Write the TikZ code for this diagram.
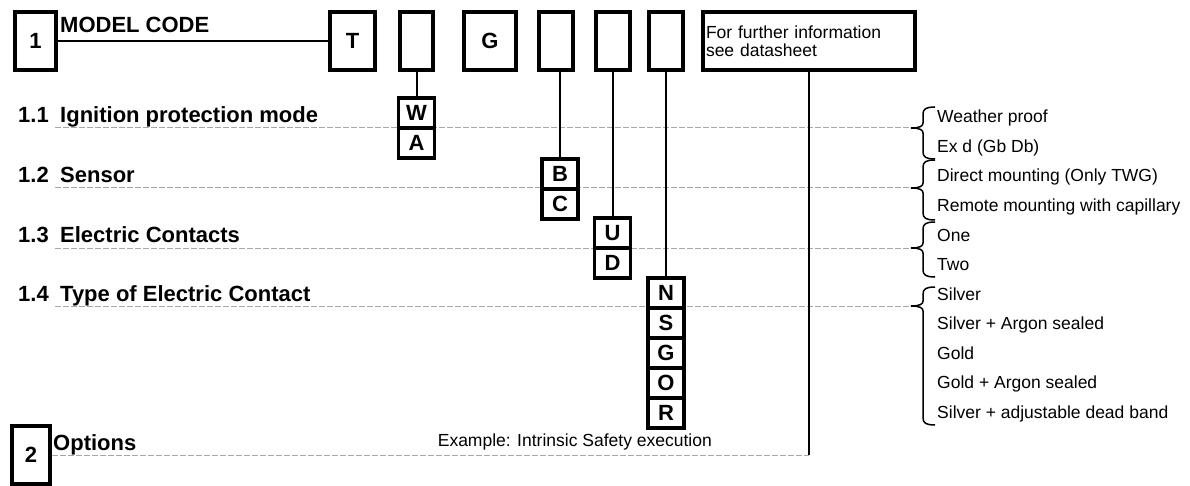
\documentclass[tikz,border=0pt]{standalone}
\usepackage{fontspec}
\setmainfont{Liberation Sans}
\usetikzlibrary{positioning}

\begin{document}
\begin{tikzpicture}[
    x=1pt, y=-1pt,
    codebox/.style={rectangle, draw, fill=white, line width=4pt, inner sep=0pt, outer sep=0pt, minimum height=58pt, font=\bfseries\fontsize{22}{24}\selectfont},
    letter/.style={rectangle, draw, fill=white, line width=3.5pt, inner sep=0pt, outer sep=0pt, minimum width=36pt, minimum height=30pt, font=\bfseries\fontsize{22}{24}\selectfont},
    head/.style={inner sep=0pt, anchor=base west, font=\bfseries\fontsize{22}{24}\selectfont},
    choice/.style={inner sep=0pt, anchor=base west, font=\fontsize{17.5}{19}\selectfont},
    link/.style={line width=2pt},
    guide/.style={gray!70, line width=1pt, dash pattern=on 6pt off 2pt},
    brace/.style={line width=1.5pt}
]
    \useasboundingbox (0,0) rectangle (1190,486);

    % headings, guide lines and braces
    \foreach \i/\lbl/\ya/\ym/\yb in {1/Ignition protection mode/107/128/159, 2/Sensor/160/188/220, 3/Electric Contacts/222/248/277, 4/Type of Electric Contact/287/306/425} {
        \node[head] (num\i) at (18,\ym-5) {1.\i};
        \node[head] (head\i) at (60,\ym-5) {\lbl};
        \coordinate (g\i) at (55,\ym);
        \coordinate (tip\i) at (911,\ym);
        \draw[guide] (g\i) -- (tip\i);
        \draw[brace] (935,\ya) .. controls (926,\ya) and (923,\ya+2) .. (923,\ya+7) -- (923,\ym-5)
            .. controls (923,\ym-2) and (920,\ym) .. (tip\i)
            .. controls (920,\ym) and (923,\ym+2) .. (923,\ym+5) -- (923,\yb-7)
            .. controls (923,\yb-2) and (926,\yb) .. (935,\yb);
    }

    \foreach \txt [count=\k] in {Weather proof, Ex d (Gb Db), Direct mounting (Only TWG), Remote mounting with capillary, One, Two, Silver, Silver + Argon sealed, Gold, Gold + Argon sealed, Silver + adjustable dead band}
        \node[choice] (opt\k) at (937,{123+29.5*(\k-1)}) {\txt};

    % model code row
    \node[codebox, minimum width=41pt] (n1) at (35.5,41) {1};
    \node[head] (title) at (60,33) {MODEL CODE};
    \node[codebox, minimum width=45pt] (cT) at (352.5,41) {T};
    \node[codebox, minimum width=33pt] (c2) at (416.5,41) {};
    \node[codebox, minimum width=52pt] (cG) at (490,41) {G};
    \node[codebox, minimum width=34pt] (c4) at (556,41) {};
    \node[codebox, minimum width=34pt] (c5) at (612.5,41) {};
    \node[codebox, minimum width=34pt] (c6) at (666,41) {};
    \node[codebox, minimum width=212pt, text width=206pt, inner xsep=3pt, align=left, font=\fontsize{17.5}{18}\selectfont] (info) at (809,41) {For further information\\see datasheet};

    \node[letter] (lW) at (416.5,113) {W};
    \node[letter, below=0pt of lW] (lA) {A};
    \node[letter] (lB) at (560,174) {B};
    \node[letter, below=0pt of lB] (lC) {C};
    \node[letter] (lU) at (612.5,233) {U};
    \node[letter, below=0pt of lU] (lD) {D};
    \node[letter] (lN) at (666,293) {N};
    \foreach \a/\b in {N/S, S/G, G/O, O/R}
        \node[letter, below=0pt of l\a] (l\b) {\b};

    \draw[link] (n1.east) -- (cT.west);
    \draw[link] (c2.south) -- (lW.north);
    \draw[link] (lB.north |- c4.south) -- (lB.north);
    \draw[link] (c5.south) -- (lU.north);
    \draw[link] (c6.south) -- (lN.north);

    % options row
    \node[codebox, minimum width=38pt] (n2) at (31,455) {2};
    \node[head] (opts) at (53,450) {Options};
    \node[choice, anchor=base east] (example) at (712,446) {Example: Intrinsic Safety execution};
    \coordinate (ol) at (52,455);
    \coordinate (oe) at (809,455);
    \draw[guide] (ol) -- (oe);
    \draw[link] (info.south) -- (oe);
\end{tikzpicture}
\end{document}
